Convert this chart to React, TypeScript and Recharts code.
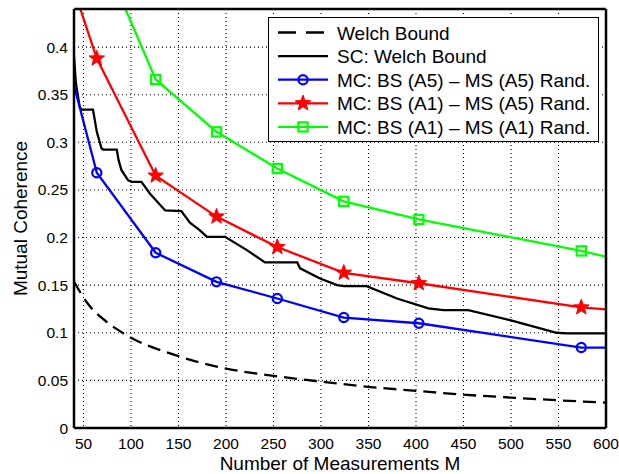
import React from 'react';
import { LineChart, Line, XAxis, YAxis, CartesianGrid, Legend } from 'recharts';

const FONT = '"Liberation Sans", Arial, Helvetica, sans-serif';

// Axes
const xTicks = [50, 100, 150, 200, 250, 300, 350, 400, 450, 500, 550, 600];
const yTicks = [0, 0.05, 0.1, 0.15, 0.2, 0.25, 0.3, 0.35, 0.4];
const xDomain: [number, number] = [40, 600];
const yDomain: [number, number] = [0, 0.44];

// Measurement counts where markers are drawn
const markerM = [64, 126, 190, 254, 324, 403, 574];

// Series names
const seriesNames = [
  'Welch Bound',
  'SC: Welch Bound',
  'MC: BS (A5) – MS (A5) Rand.',
  'MC: BS (A1) – MS (A5) Rand.',
  'MC: BS (A1) – MS (A1) Rand.',
];

// Welch Bound (dashed)
const welchM = [40, 55, 75, 92, 152, 199, 250, 301, 352, 401, 450, 499, 548, 600];
const welchV = [0.1535, 0.13, 0.111, 0.0994, 0.0748, 0.0626, 0.0548, 0.0486, 0.043, 0.039, 0.035, 0.032, 0.0292, 0.0266];

// SC: Welch Bound (black staircase)
const scM = [40, 42, 46, 48, 60, 64, 69, 71, 85, 87, 90, 97, 101, 111, 120, 136, 153, 162, 172, 180, 199, 222, 241, 275, 278, 299, 317, 324, 348, 380, 413, 429, 455, 499, 548, 559, 600];
const scV = [0.39, 0.362, 0.337, 0.3344, 0.3344, 0.311, 0.2935, 0.2924, 0.2924, 0.281, 0.2707, 0.26, 0.2585, 0.2585, 0.246, 0.2285, 0.2277, 0.2155, 0.208, 0.2007, 0.2007, 0.1868, 0.1739, 0.1739, 0.1676, 0.157, 0.15, 0.149, 0.149, 0.136, 0.1256, 0.1238, 0.1238, 0.1133, 0.1, 0.0994, 0.0994];

// MC: BS (A5) – MS (A5)
const a5a5M = [40, 64, 126, 190, 254, 324, 403, 574, 600];
const a5a5V = [0.36, 0.268, 0.184, 0.1535, 0.136, 0.116, 0.11, 0.0845, 0.0845];

// MC: BS (A1) – MS (A5)
const a1a5M = [40, 64, 126, 190, 254, 324, 403, 574, 600];
const a1a5V = [0.46, 0.388, 0.265, 0.222, 0.19, 0.163, 0.152, 0.1266, 0.1245];

// MC: BS (A1) – MS (A1)
const a1a1M = [64, 126, 190, 254, 324, 403, 574, 600];
const a1a1V = [0.51, 0.366, 0.311, 0.2725, 0.238, 0.219, 0.186, 0.18];

const zip = (ms: number[], vs: number[]) => ms.map((m, i) => ({ x: m, y: vs[i] }));

const welchData = zip(welchM, welchV);
const scData = zip(scM, scV);
const a5a5Data = zip(a5a5M, a5a5V);
const a1a5Data = zip(a1a5M, a1a5V);
const a1a1Data = zip(a1a1M, a1a1V);

const BLUE = '#0000ff';
const RED = '#ff0000';
const GREEN = '#00ff00';
const LW = 2.3;

function Marker({ kind, color, cx, cy }: { kind: string; color: string; cx: number; cy: number }) {
  if (kind === 'circle') {
    return <circle cx={cx} cy={cy} r={4.6} fill="none" stroke={color} strokeWidth={2.2} />;
  }
  if (kind === 'square') {
    return <rect x={cx - 4.6} y={cy - 4.6} width={9.2} height={9.2} fill="none" stroke={color} strokeWidth={2.2} />;
  }
  const pts: string[] = [];
  for (let i = 0; i < 10; i++) {
    const r = i % 2 === 0 ? 8.2 : 3.4;
    const a = -Math.PI / 2 + (i * Math.PI) / 5;
    pts.push(`${cx + r * Math.cos(a)},${cy + r * Math.sin(a)}`);
  }
  return <polygon points={pts.join(' ')} fill={color} stroke={color} strokeWidth={1} strokeLinejoin="miter" />;
}

const markerDot = (kind: string, color: string) => (props: any) => {
  const { cx, cy, payload, index } = props;
  const key = `dot-${kind}-${index}`;
  if (cx == null || cy == null || !payload || !markerM.includes(payload.x) || payload.y > yDomain[1]) {
    return <g key={key} />;
  }
  return (
    <g key={key}>
      <Marker kind={kind} color={color} cx={cx} cy={cy} />
    </g>
  );
};

const legendItems = [
  { name: seriesNames[0], color: '#000', dash: '18 10', marker: '' },
  { name: seriesNames[1], color: '#000', dash: undefined, marker: '' },
  { name: seriesNames[2], color: BLUE, dash: undefined, marker: 'circle' },
  { name: seriesNames[3], color: RED, dash: undefined, marker: 'star' },
  { name: seriesNames[4], color: GREEN, dash: undefined, marker: 'square' },
];

function LegendBox() {
  return (
    <svg width={331} height={125} style={{ display: 'block' }}>
      <rect x={0.5} y={0.5} width={330} height={124} fill="#fff" stroke="#000" strokeWidth={1} />
      {legendItems.map((it, i) => {
        const cy = 15.5 + i * 23.6;
        return (
          <g key={i}>
            <line x1={10} x2={60} y1={cy} y2={cy} stroke={it.color} strokeWidth={LW} strokeDasharray={it.dash} />
            {it.marker ? <Marker kind={it.marker} color={it.color} cx={35} cy={cy} /> : null}
            <text x={69} y={cy + 7} fontSize={19} fontFamily={FONT} fill="#000">
              {it.name}
            </text>
          </g>
        );
      })}
    </svg>
  );
}

const XLabel = (props: any) => {
  const vb = props.viewBox || { x: 74, y: 428, width: 532, height: 40 };
  return (
    <text x={vb.x + vb.width / 2} y={vb.y + 42} textAnchor="middle" fontSize={19} fontFamily={FONT} fill="#000">
      Number of Measurements M
    </text>
  );
};

const YLabel = (props: any) => {
  const vb = props.viewBox || { x: 14, y: 9, width: 60, height: 419 };
  const x = vb.x + 12.7;
  const y = vb.y + vb.height / 2;
  return (
    <text x={x} y={y} transform={`rotate(-90, ${x}, ${y})`} textAnchor="middle" fontSize={19} fontFamily={FONT} fill="#000">
      Mutual Coherence
    </text>
  );
};

const tickStyle = { fill: '#000', fontSize: 15.5, fontFamily: FONT };
const axisLineStyle = { stroke: '#000', strokeWidth: 2.5 };
const innerTick = { stroke: '#000', strokeWidth: 1.5 };

export default function App() {
  return (
    <div style={{ position: 'absolute', left: 0, top: 0, width: 619, height: 474, background: '#fff' }}>
      <LineChart width={619} height={474} margin={{ top: 9, right: 13, bottom: 6, left: 14 }}>
        <CartesianGrid xAxisId="x" yAxisId="y" stroke="#000" strokeWidth={1.1} strokeDasharray="1 3" />
        <Line xAxisId="x" yAxisId="y" data={welchData} dataKey="y" name={seriesNames[0]} type="monotone" stroke="#000" strokeWidth={LW} strokeDasharray="13 7" dot={false} activeDot={false} isAnimationActive={false} />
        <Line xAxisId="x" yAxisId="y" data={scData} dataKey="y" name={seriesNames[1]} type="linear" stroke="#000" strokeWidth={LW} dot={false} activeDot={false} isAnimationActive={false} />
        <Line xAxisId="x" yAxisId="y" data={a5a5Data} dataKey="y" name={seriesNames[2]} type="linear" stroke={BLUE} strokeWidth={LW} dot={markerDot('circle', BLUE)} activeDot={false} isAnimationActive={false} />
        <Line xAxisId="x" yAxisId="y" data={a1a5Data} dataKey="y" name={seriesNames[3]} type="linear" stroke={RED} strokeWidth={LW} dot={markerDot('star', RED)} activeDot={false} isAnimationActive={false} />
        <Line xAxisId="x" yAxisId="y" data={a1a1Data} dataKey="y" name={seriesNames[4]} type="linear" stroke={GREEN} strokeWidth={LW} dot={markerDot('square', GREEN)} activeDot={false} isAnimationActive={false} />

        <XAxis xAxisId="x" type="number" dataKey="x" domain={xDomain} ticks={xTicks} allowDataOverflow interval={0} height={40} tickLine={false} tickSize={5} tickMargin={5} axisLine={axisLineStyle} tick={tickStyle} label={<XLabel />} />
        <XAxis xAxisId="xb" type="number" dataKey="x" domain={xDomain} ticks={xTicks} allowDataOverflow interval={0} orientation="bottom" mirror tick={false} tickLine={innerTick} tickSize={5} axisLine={false} />
        <XAxis xAxisId="xt" type="number" dataKey="x" domain={xDomain} ticks={xTicks} allowDataOverflow interval={0} orientation="top" mirror tick={false} tickLine={innerTick} tickSize={5} axisLine={axisLineStyle} />

        <YAxis yAxisId="y" type="number" domain={yDomain} ticks={yTicks} allowDataOverflow interval={0} width={60} tickLine={false} tickSize={3} tickMargin={3} axisLine={axisLineStyle} tick={tickStyle} label={<YLabel />} />
        <YAxis yAxisId="yl" type="number" domain={yDomain} ticks={yTicks} allowDataOverflow interval={0} orientation="left" mirror tick={false} tickLine={innerTick} tickSize={5} axisLine={false} />
        <YAxis yAxisId="yr" type="number" domain={yDomain} ticks={yTicks} allowDataOverflow interval={0} orientation="right" mirror tick={false} tickLine={innerTick} tickSize={5} axisLine={axisLineStyle} />

        <Legend layout="vertical" align="center" verticalAlign="middle" content={<LegendBox />} wrapperStyle={{ left: 268, top: 17, width: 331, height: 125, right: 'auto', bottom: 'auto', margin: 0, padding: 0 }} />
      </LineChart>
    </div>
  );
}
